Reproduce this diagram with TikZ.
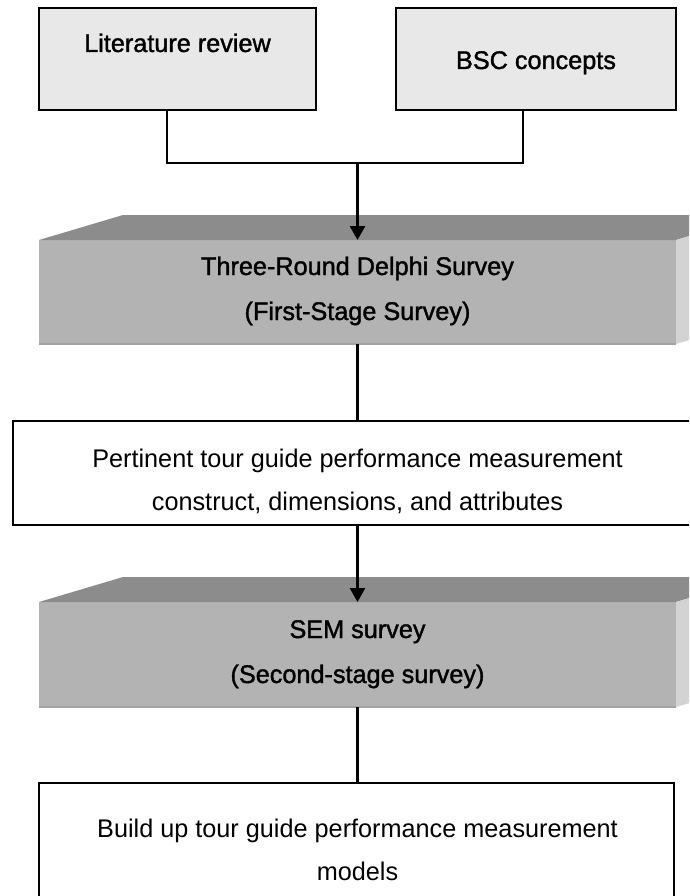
\documentclass[tikz,border=0pt]{standalone}
\usepackage{fontspec}
\setmainfont{Liberation Sans}[FakeStretch=0.99]
\usetikzlibrary{arrows.meta}
\definecolor{litefill}{HTML}{E8E8E8}
\definecolor{frontgray}{HTML}{B3B3B3}
\definecolor{topgray}{HTML}{8C8C8C}
\definecolor{sidegray}{HTML}{D3D3D3}
\definecolor{edgegray}{HTML}{A2A2A2}
\tikzset{
  every node/.style={inner sep=0pt, outer sep=0pt},
  topbox/.style={draw=black, line width=2.8pt, fill=litefill},
  flatbox/.style={draw=black, line width=2.6pt, fill=white},
  frontface/.style={fill=frontgray},
  conn/.style={line width=2.6pt, line join=miter},
  arr/.style={conn, -{Triangle[width=15pt,length=14pt]}},
  lbl/.style={anchor=base, font=\fontsize{25.5}{28}\selectfont},
  boldlbl/.style={anchor=base, font=\fontsize{25.5}{28}\selectfont\addfontfeature{FakeBold=1.4}},
}
\begin{document}
\begin{tikzpicture}[x=1pt,y=-1pt]
\useasboundingbox (0,0) rectangle (689,896);
\clip (0,0) rectangle (689,896);
% top boxes
\node[topbox, minimum width=277pt, minimum height=102pt] (lit) at (177.5,59) {};
\node[topbox, minimum width=280pt, minimum height=102pt] (bsc) at (536,59) {};
\node[boldlbl] (litT) at (177.5,52) {Literature review};
\node[boldlbl] (bscT) at (536,69) {BSC concepts};
% junction
\coordinate (j) at (357.5,163);
\draw[conn] ([xshift=-10.5pt]lit.south) |- (j) -| ([xshift=-13pt]bsc.south);
% gray box 1
\node[frontface, minimum width=637pt, minimum height=104pt] (g1) at (357.5,292) {};
\fill[topgray] (g1.north west) -- ++(84,-25) -- ([shift={(84,-25)}]g1.north east) -- (g1.north east) -- cycle;
\fill[sidegray] (g1.north east) -- ++(84,-25) -- ++(0,104) -- (g1.south east) -- cycle;
\draw[edgegray, line width=1.2pt] (g1.south west) -- (g1.south east);
\node[boldlbl] (g1a) at (357.5,275) {Three-Round Delphi Survey};
\node[boldlbl] (g1b) at (357.5,320) {(First-Stage Survey)};
\draw[arr] (j) -- (g1.north);
% white box 1
\node[flatbox, minimum width=707pt, minimum height=104pt] (w1) at (366.5,473) {};
\draw[conn] (g1.south) -- (g1.south |- w1.north);
\node[lbl] (w1a) at (357.5,467) {Pertinent tour guide performance measurement};
\node[lbl] (w1b) at (357.5,510) {construct, dimensions, and attributes};
% gray box 2
\node[frontface, minimum width=637pt, minimum height=105pt] (g2) at (357.5,654.5) {};
\fill[topgray] (g2.north west) -- ++(84,-25) -- ([shift={(84,-25)}]g2.north east) -- (g2.north east) -- cycle;
\fill[sidegray] (g2.north east) -- ++(84,-25) -- ++(0,105) -- (g2.south east) -- cycle;
\draw[edgegray, line width=1.2pt] (g2.south west) -- (g2.south east);
\node[boldlbl] (g2a) at (357.5,638) {SEM survey};
\node[boldlbl] (g2b) at (357.5,683) {(Second-stage survey)};
\draw[arr] (w1.south -| g2.north) -- (g2.north);
% bottom box
\node[flatbox, minimum width=635pt, minimum height=147pt] (w2) at (356.5,856.5) {};
\draw[conn] (g2.south) -- (g2.south |- w2.north);
\node[lbl] (w2a) at (357.5,837) {Build up tour guide performance measurement};
\node[lbl] (w2b) at (357.5,880) {models};
\end{tikzpicture}
\end{document}
